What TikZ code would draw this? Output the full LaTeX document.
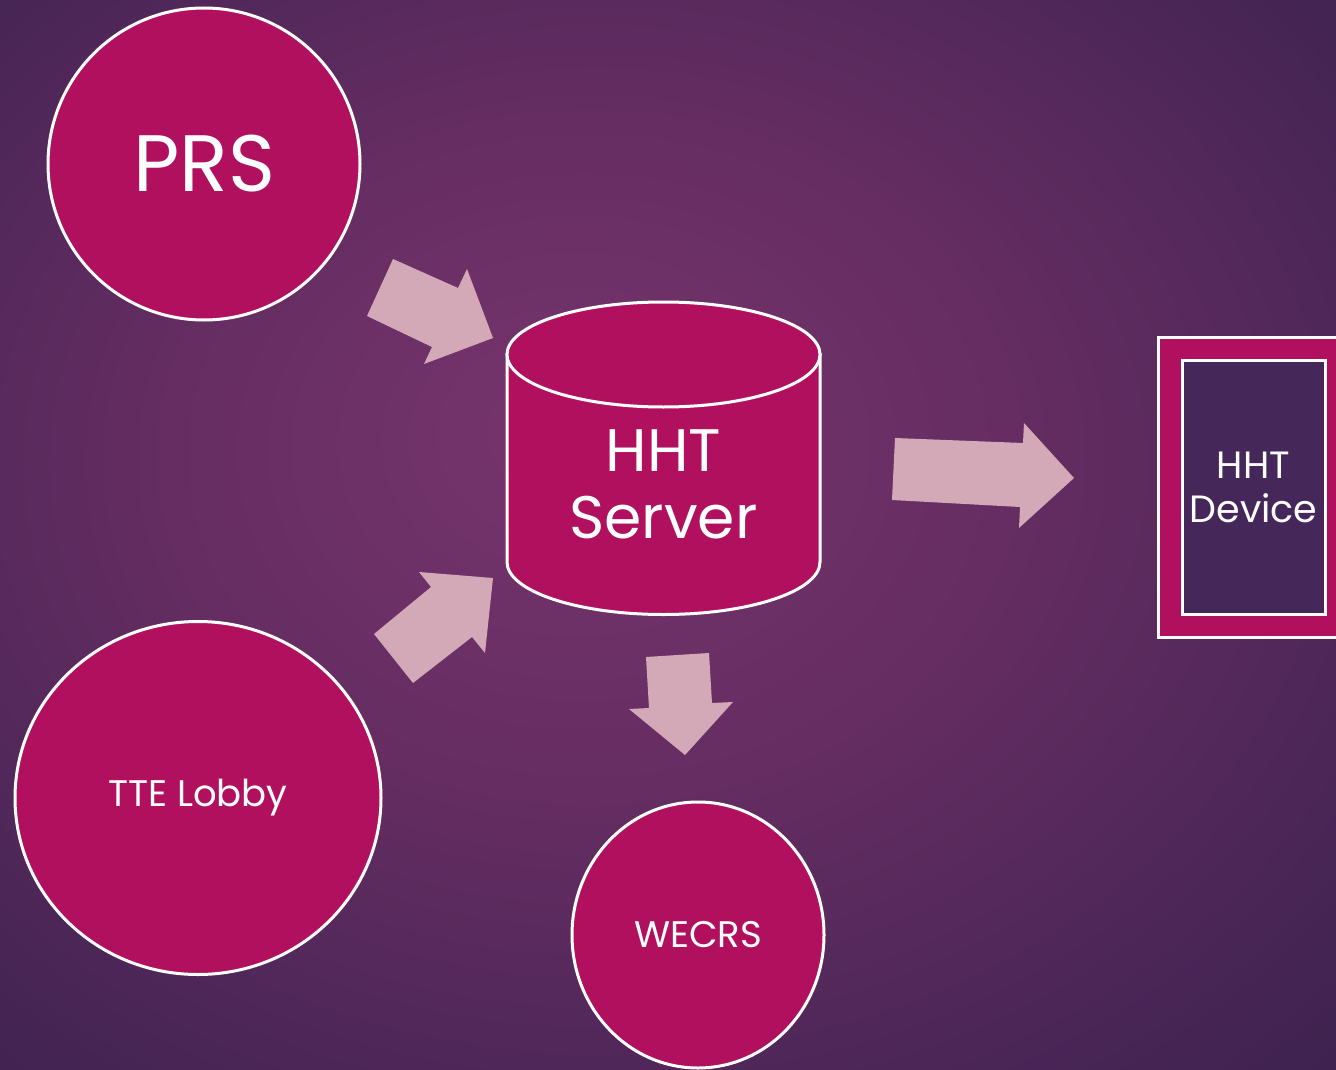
\documentclass[tikz,border=0pt]{standalone}
\usepackage{fontspec}
\setmainfont{Poppins}
\usetikzlibrary{shapes.geometric}
\definecolor{mag}{HTML}{B1105F}
\definecolor{arrowpink}{HTML}{D4A9B7}
\definecolor{bgin}{HTML}{76356C}
\definecolor{bgmid}{HTML}{652D62}
\definecolor{bgout}{HTML}{472555}
\definecolor{bgcorner}{HTML}{2F1D43}
\definecolor{devfill}{HTML}{45275A}
\pgfdeclareradialshading{bgshade}{\pgfpoint{-4bp}{5bp}}{color(0bp)=(bgin); color(16bp)=(bgmid); color(32bp)=(bgout); color(48bp)=(bgcorner); color(60bp)=(bgcorner)}
\tikzset{
  bub/.style={ellipse, draw=white, line width=3pt, fill=mag, text=white, inner sep=0pt},
  blockarrow/.style={fill=arrowpink, draw=none},
  shapeline/.style={draw=white, line width=3pt, fill=mag},
}
\begin{document}
\begin{tikzpicture}[x=1pt,y=-1pt]
\useasboundingbox (0,0) rectangle (1336,1070);
\shade[shading=bgshade] (0,0) rectangle (1336,1070);

% circles
\node[bub, minimum width=312pt, minimum height=312pt, font=\fontsize{80}{90}\selectfont] (prs) at (204,164) {PRS};
\node[bub, minimum width=366pt, minimum height=353pt, font=\fontsize{37}{44}\selectfont] (tte) at (198,798) {TTE Lobby};
\node[bub, minimum width=252pt, minimum height=266pt, font=\fontsize{37}{44}\selectfont] (wecrs) at (698,935) {WECRS};

% cylinder
\path[shapeline] (507,354.5) -- (507,562)
  .. controls (507,591) and (577.1,614.5) .. (663.5,614.5)
  .. controls (749.9,614.5) and (820,591) .. (820,562)
  -- (820,354.5) -- cycle;
\path[shapeline] (663.5,354.5) ellipse [x radius=156.5, y radius=52.5];
\node[text=white, align=center, font=\fontsize{60}{67}\selectfont] (server) at (663.5,484) {HHT\\Server};

% device
\path[shapeline] (1158,337) rectangle (1340,637);
\path[draw=white, line width=3pt, fill=devfill] (1182,360) rectangle (1325,614);
\node[text=white, align=center, font=\fontsize{38}{44}\selectfont] (device) at (1253.5,487) {HHT\\Device};

% block arrows
\fill[blockarrow] (393,259) -- (458,288) -- (467,269) -- (493,338) -- (424,364) -- (432,347) -- (367,316) -- cycle;
\fill[blockarrow] (419,572) -- (493,578) -- (485,653) -- (472,637) -- (413,683) -- (374,634) -- (431,587) -- cycle;
\fill[blockarrow] (895,438) -- (1023,443) -- (1024,423) -- (1074,478) -- (1019,528) -- (1020,507) -- (892,500) -- cycle;
\fill[blockarrow] (646,657) -- (709,653) -- (712,703) -- (733,702) -- (685,755) -- (629,709) -- (649,708) -- cycle;
\end{tikzpicture}
\end{document}
